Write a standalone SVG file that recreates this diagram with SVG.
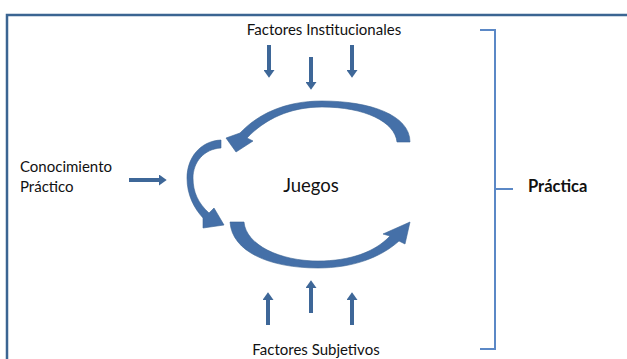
<svg xmlns="http://www.w3.org/2000/svg" width="627" height="359" viewBox="0 0 627 359">
<style>
.t{font-family:Lato,"Liberation Sans",sans-serif;fill:#111;}
.sa{fill:#3e6798;}
.ca{fill:#4570a8;stroke:#3b6394;stroke-width:0.6;}
.br{fill:none;stroke:#5b88c6;stroke-width:2;}
</style>
<defs>
<marker id="ah" viewBox="0 0 10 10" refX="0" refY="5" markerWidth="11" markerHeight="11" markerUnits="userSpaceOnUse" orient="auto">
<path d="M0,0 L7,5 L0,10 Z" class="sa"/>
</marker>
</defs>
<rect width="627" height="359" fill="#fff"/>
<path d="M7,359 V15 H627" fill="none" stroke="#3b6592" stroke-width="2.5"/>
<g id="practica">
<path class="br" d="M480,30 H495 V349 H480 M495,189 H513"/>
<text class="t" x="528" y="192" font-size="16.5" font-weight="bold">Práctica</text>
</g>
<g id="factores-institucionales">
<text class="t" x="324" y="35" font-size="15" text-anchor="middle">Factores Institucionales</text>
</g>
<g id="factores-subjetivos">
<text class="t" x="316" y="355" font-size="15" text-anchor="middle">Factores Subjetivos</text>
</g>
<g id="conocimiento">
<text class="t" x="20" y="172" font-size="15">Conocimiento</text>
<text class="t" x="20" y="192" font-size="15">Práctico</text>
</g>
<g id="juegos">
<text class="t" x="311" y="192" font-size="18.5" text-anchor="middle">Juegos</text>
</g>
<g id="connectors">
<g stroke="#3e6798" stroke-width="4" marker-end="url(#ah)">
<line x1="269" y1="45" x2="269" y2="70"/>
<line x1="311" y1="57" x2="311" y2="82"/>
<line x1="352" y1="45" x2="352" y2="70"/>
<line x1="268" y1="325" x2="268" y2="300"/>
<line x1="311" y1="313" x2="311" y2="288"/>
<line x1="352" y1="325" x2="352" y2="300"/>
<line x1="129" y1="180" x2="159" y2="180"/>
</g>
<path class="ca" d="M397,142 L410,142 C410,115 370,101 322,101 C285,101 258,114 240,133 L226,138 L236,152 L253,141 L247,138 C265,119 290,107 322,107 C365,107 395,122 397,142 Z"/>
<path class="ca" d="M221,140 C200,141 187,158 187,178 C187,195 194,208 203,218 L203,228 L224,225 L214,208 L209,213 C198,203 193,192 193,178 C193,162 204,149 221,148 Z"/>
<path class="ca" d="M230,222 L244,222 C246,245 280,261 318,261 C350,261 375,252 390,236 L383,234 L410,222 L405,244 L399,241 C380,258 352,268 318,268 C270,268 232,252 230,222 Z"/>
</g>
</svg>
